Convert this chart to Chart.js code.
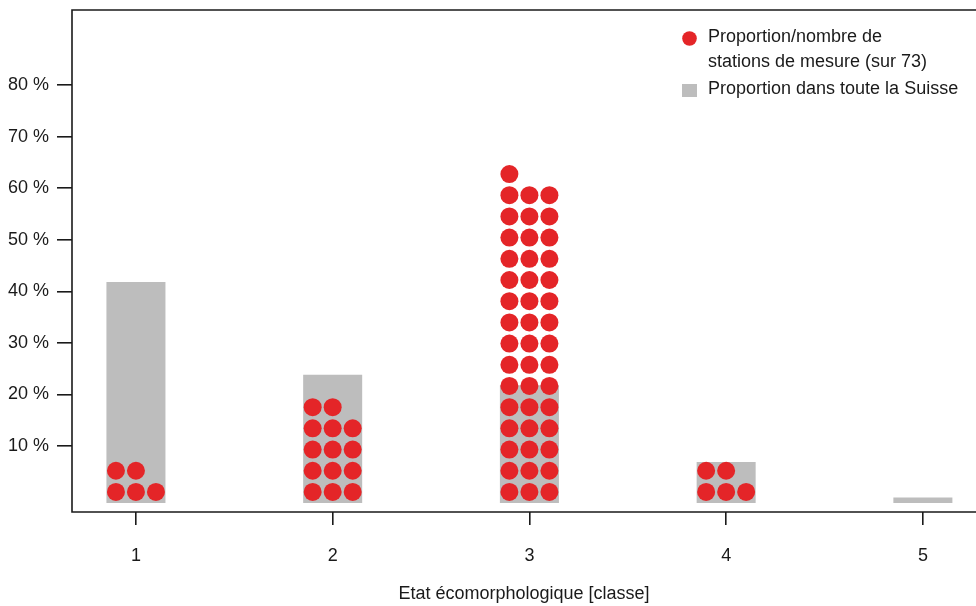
<!DOCTYPE html>
<html>
<head>
<meta charset="utf-8">
<script src="https://cdn.jsdelivr.net/npm/chart.js@4/dist/chart.umd.min.js"></script>
<style>
  html, body { margin: 0; padding: 0; background: #fff; }
</style>
</head>
<body>
<canvas id="graphique" width="976" height="606"></canvas>
<script>
// données
const classes = [1, 2, 3, 4, 5];
const partSuisse = [41.8, 23.8, 21.8, 6.9, 0];   // % de la Suisse (barres grises)
const nbStations = [5, 14, 46, 5, 0];            // stations de mesure par classe
const totalStations = 73;
const yTicks = [10, 20, 30, 40, 50, 60, 70, 80];
const xTicks = [1, 2, 3, 4, 5];

const labelPoints = ["Proportion/nombre de", "stations de mesure (sur 73)"];
const labelBarres = "Proportion dans toute la Suisse";
const titreX = "Etat écomorphologique [classe]";

const ROUGE = "#e42528";
const GRIS = "#bdbdbd";
const NOIR = "#1a1a1a";
const police = { family: "'Liberation Sans', Arial, sans-serif", size: 18 };

// une pastille par station, empilées par rangées de 3
const baseBarres = -1.05;
const basePoints = 1.1;
const decalCol = [-0.1017, 0, 0.1017];
const points = [];
classes.forEach((c, i) => {
  for (let k = 0; k < nbStations[i]; k++) {
    const rangee = Math.floor(k / 3);
    points.push({ x: c + decalCol[k % 3], y: basePoints + rangee * 300 / totalStations });
  }
});

const cadre = {
  id: "cadre",
  afterDraw(chart) {
    const { ctx, chartArea: a } = chart;
    ctx.save();
    ctx.strokeStyle = NOIR;
    ctx.lineWidth = 1.6;
    ctx.beginPath();
    ctx.moveTo(a.right, a.top);
    ctx.lineTo(a.left, a.top);
    ctx.lineTo(a.left, a.bottom);
    ctx.lineTo(a.right, a.bottom);
    ctx.stroke();
    ctx.restore();
  }
};

const legende = {
  id: "legende",
  afterDraw(chart) {
    const ctx = chart.ctx;
    const ds = chart.data.datasets;
    ctx.save();
    ctx.font = `${police.size}px ${police.family}`;
    ctx.textBaseline = "alphabetic";
    ctx.textAlign = "left";
    ctx.fillStyle = ds[0].backgroundColor;
    ctx.beginPath();
    ctx.arc(689.5, 38.5, 7.3, 0, Math.PI * 2);
    ctx.fill();
    ctx.fillStyle = ds[1].backgroundColor;
    ctx.fillRect(682, 84, 15, 13);
    ctx.fillStyle = NOIR;
    ds[0].label.forEach((t, i) => ctx.fillText(t, 708, 42 + i * 25));
    ctx.fillText(ds[1].label, 708, 94);
    ctx.restore();
  }
};

// pas de marge automatique autour de la zone du graphique
const sansMarge = ax => {
  ax.paddingTop = 0; ax.paddingBottom = 0; ax.paddingLeft = 0; ax.paddingRight = 0;
};

new Chart(document.getElementById("graphique"), {
  type: "bar",
  data: {
    datasets: [
      {
        type: "scatter",
        label: labelPoints,
        data: points,
        backgroundColor: ROUGE,
        borderWidth: 0,
        pointRadius: 9,
        pointHoverRadius: 9,
        order: 0
      },
      {
        type: "bar",
        label: labelBarres,
        data: classes.map((c, i) => ({ x: c, y: [baseBarres, partSuisse[i]] })),
        backgroundColor: GRIS,
        barPercentage: 1,
        categoryPercentage: 0.3,
        order: 1
      }
    ]
  },
  options: {
    responsive: false,
    animation: false,
    layout: { autoPadding: false, padding: { top: 10, right: 0, left: 0, bottom: 0 } },
    plugins: { legend: { display: false }, tooltip: { enabled: false } },
    scales: {
      x: {
        type: "linear",
        offset: false,
        min: 0.675,
        max: 5.27,
        afterBuildTicks: ax => { ax.ticks = xTicks.map(v => ({ value: v })); },
        afterFit: ax => { ax.height = 94; sansMarge(ax); },
        grid: { offset: false, drawOnChartArea: false, tickLength: 13, color: NOIR, lineWidth: 1.6 },
        border: { display: false },
        ticks: { color: NOIR, font: police, padding: 20, maxRotation: 0, callback: v => String(v) },
        title: { display: true, text: titreX, color: NOIR, font: police, padding: { top: 0, bottom: 1 } }
      },
      y: {
        min: -2.79,
        max: 94.55,
        afterBuildTicks: ax => { ax.ticks = yTicks.map(v => ({ value: v })); },
        afterFit: ax => { ax.width = 72; sansMarge(ax); },
        grid: { drawOnChartArea: false, tickLength: 15, color: NOIR, lineWidth: 1.6 },
        border: { display: false },
        ticks: { color: NOIR, font: police, padding: 8, callback: v => v + " %" }
      }
    }
  },
  plugins: [cadre, legende]
});
</script>
</body>
</html>
